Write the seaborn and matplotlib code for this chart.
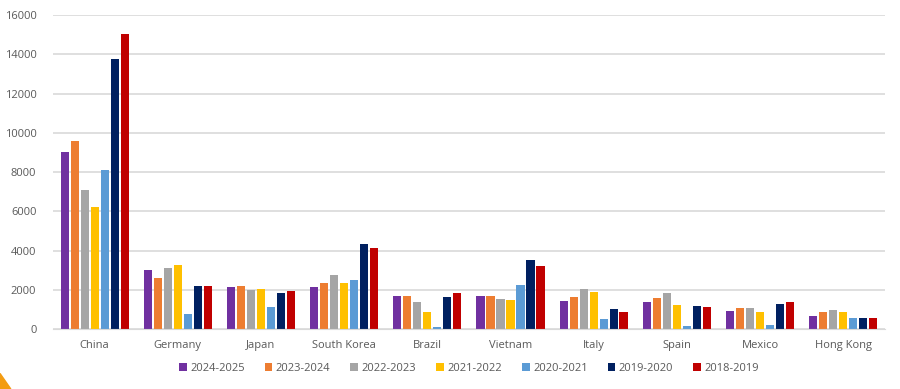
import matplotlib
matplotlib.use("Agg")
import matplotlib.pyplot as plt
import pandas as pd
import seaborn as sns
from matplotlib.patches import Polygon

countries = ['China', 'Germany', 'Japan', 'South Korea', 'Brazil',
             'Vietnam', 'Italy', 'Spain', 'Mexico', 'Hong Kong']
years = ['2024-2025', '2023-2024', '2022-2023', '2021-2022',
         '2020-2021', '2019-2020', '2018-2019']

# one list per academic year, same order as countries
y2024_2025 = [9050, 3000, 2150, 2150, 1710, 1680, 1425, 1370, 930, 660]
y2023_2024 = [9600, 2600, 2200, 2370, 1710, 1680, 1630, 1610, 1085, 850]
y2022_2023 = [7100, 3100, 2000, 2750, 1405, 1540, 2050, 1865, 1100, 980]
y2021_2022 = [6200, 3250, 2050, 2340, 850, 1475, 1880, 1220, 865, 865]
y2020_2021 = [8100, 750, 1150, 2525, 120, 2255, 530, 170, 200, 590]
y2019_2020 = [13750, 2200, 1850, 4320, 1660, 3510, 1017, 1200, 1255, 590]
y2018_2019 = [15050, 2200, 1950, 4135, 1815, 3200, 850, 1150, 1405, 575]

colors = ['#7030A0', '#ED7D31', '#A5A5A5', '#FFC000', '#5B9BD5', '#002060', '#C00000']

series = [y2024_2025, y2023_2024, y2022_2023, y2021_2022,
          y2020_2021, y2019_2020, y2018_2019]
rows = []
for year, vals in zip(years, series):
    for c, v in zip(countries, vals):
        rows.append({'Country': c, 'Year': year, 'Students': v})
df = pd.DataFrame(rows)

sns.set_style('white')
plt.rcParams['font.family'] = ['Open Sans', 'DejaVu Sans']

fig = plt.figure(figsize=(9, 3.89), dpi=100)
ax = fig.add_axes([0.059, 0.154, 0.924, 0.807])

sns.barplot(data=df, x='Country', y='Students', hue='Year', hue_order=years,
            palette=colors, width=0.84, gap=0.18, ax=ax, legend=True,
            saturation=1, linewidth=0)

ax.set_ylim(0, 16000)
ax.set_yticks(range(0, 16001, 2000))
ax.yaxis.grid(True, color='#D9D9D9', linewidth=1.2)
ax.set_axisbelow(True)
for s in ['top', 'right', 'left']:
    ax.spines[s].set_visible(False)
ax.spines['bottom'].set_color('#D9D9D9')
ax.set_xlabel('')
ax.set_ylabel('')
ax.tick_params(axis='both', length=0, labelsize=8, colors='#595959', pad=8)
ax.tick_params(axis='y', pad=12)
ax.set_xlim(-0.5, len(countries) - 0.5)

leg = ax.legend(loc='center', bbox_to_anchor=(0.5, -0.125), ncol=7,
                frameon=False, fontsize=8, handlelength=0.7, handleheight=0.7,
                handletextpad=0.3, columnspacing=1.8)
for t in leg.get_texts():
    t.set_color('#595959')

# small orange corner decoration
fig.patches.append(Polygon([[0, 0], [0, 0.04], [0.012, 0]], closed=True,
                           transform=fig.transFigure, color='#F39C12'))

fig.savefig('out.png', dpi=100)
